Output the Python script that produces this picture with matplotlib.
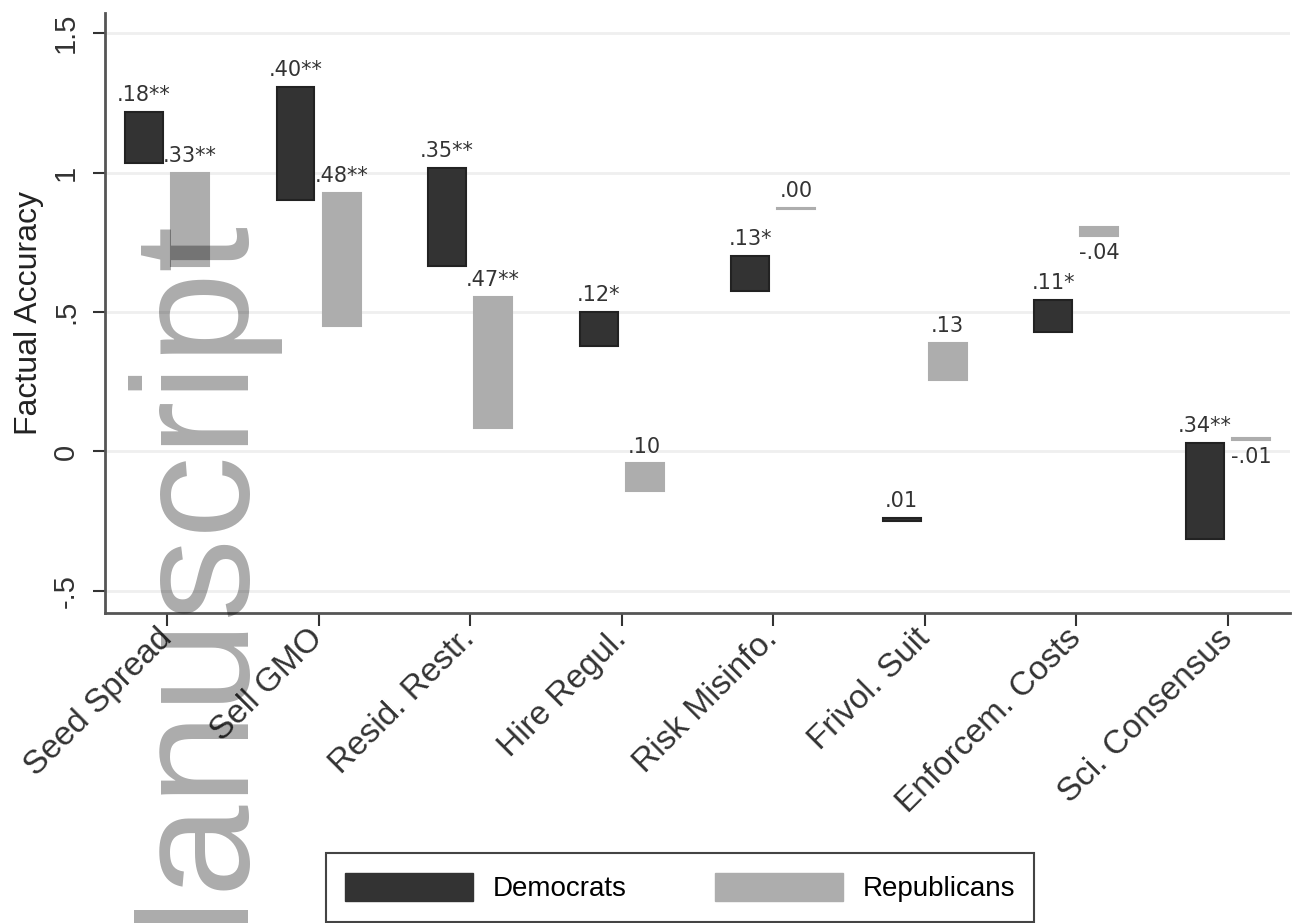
import matplotlib
matplotlib.use("Agg")
import matplotlib.pyplot as plt
from matplotlib.patches import Patch
import numpy as np

# question items on the x axis
categories = ["Seed Spread", "Sell GMO", "Resid. Restr.", "Hire Regul.",
              "Risk Misinfo.", "Frivol. Suit", "Enforcem. Costs", "Sci. Consensus"]

# factual accuracy: control level -> treated level, per party
dem_base = [1.036, 0.903, 0.666, 0.378, 0.576, -0.248, 0.428, -0.313]
dem_treat = [1.216, 1.306, 1.018, 0.500, 0.701, -0.240, 0.543, 0.029]
dem_labels = [".18**", ".40**", ".35**", ".12*", ".13*", ".01", ".11*", ".34**"]

rep_base = [0.666, 0.450, 0.086, -0.140, 0.870, 0.255, 0.806, 0.050]
rep_treat = [1.000, 0.928, 0.554, -0.043, 0.872, 0.388, 0.773, 0.040]
rep_labels = [".33**", ".48**", ".47**", ".10", ".00", ".13", "-.04", "-.01"]

DEM_C = "#333333"
REP_C = "#adadad"
TXT_C = "#333333"

plt.rcParams["font.family"] = ["Liberation Sans", "DejaVu Sans"]

W, H = 1294, 923
fig = plt.figure(figsize=(W / 100, H / 100), dpi=100, facecolor="white")
ax = fig.add_axes([105 / W, 1 - 613 / H, 1185 / W, 600 / H])

x = np.arange(len(categories))
off, bw = 0.152, 0.25


def draw(xs, base, treat, labels, color, edge):
    base, treat = np.asarray(base), np.asarray(treat)
    lo, hi = np.minimum(base, treat), np.maximum(base, treat)
    ax.bar(xs, hi - lo, bottom=lo, width=bw, color=color, edgecolor=edge,
           linewidth=1.5, zorder=3)
    for xi, b, t, lab in zip(xs, base, treat, labels):
        if t >= b:
            ax.annotate(lab, (xi, max(b, t)), xytext=(0, 5), textcoords="offset points",
                        ha="center", va="bottom", fontsize=15, color=TXT_C,
                        family="DejaVu Sans", zorder=4)
        else:
            ax.annotate(lab, (xi, min(b, t)), xytext=(0, -5), textcoords="offset points",
                        ha="center", va="top", fontsize=15, color=TXT_C,
                        family="DejaVu Sans", zorder=4)


draw(x - off, dem_base, dem_treat, dem_labels, DEM_C, "#222222")
draw(x + off, rep_base, rep_treat, rep_labels, REP_C, REP_C)

ax.set_xlim(-0.409, 7.41)
ax.set_ylim(-0.579, 1.572)

ax.set_yticks([-0.5, 0, 0.5, 1, 1.5])
ax.set_yticklabels(["-.5", "0", ".5", "1", "1.5"], rotation=90, va="center")
ax.set_ylabel("Factual Accuracy", fontsize=23, color="#222222", labelpad=6)
ax.set_xticks(x)
ax.set_xticklabels(categories, rotation=45, ha="right", va="center",
                   rotation_mode="anchor", fontsize=24, color="#222222")

ax.tick_params(axis="y", length=9, width=1.5, pad=9, labelsize=21,
               colors="#333333")
ax.tick_params(axis="x", length=9, width=1.5, pad=6, colors="#333333")

ax.grid(axis="y", color="#efefef", linewidth=2, zorder=0)
ax.set_axisbelow(True)
for s in ("top", "right"):
    ax.spines[s].set_visible(False)
for s in ("left", "bottom"):
    ax.spines[s].set_color("#555555")
    ax.spines[s].set_linewidth(2)

handles = [Patch(facecolor=DEM_C, edgecolor=DEM_C, label="Democrats"),
           Patch(facecolor=REP_C, edgecolor=REP_C, label="Republicans")]
leg = fig.legend(handles=handles, loc="center", ncol=2,
                 bbox_to_anchor=(680 / W, 1 - 887.5 / H), fontsize=20,
                 handlelength=4.6, handleheight=1.2, handletextpad=0.7,
                 columnspacing=3.2, borderpad=0.7, fancybox=False,
                 framealpha=1, edgecolor="#444444")
leg.get_frame().set_linewidth(1.5)

# repository watermark running up the left margin
fig.text(236 / W, 1 - 212 / H, "Manuscript", rotation=90, rotation_mode="anchor",
         ha="right", va="baseline", fontsize=119, color="black", alpha=0.33,
         zorder=10)

fig.savefig("out.png", dpi=100, facecolor="white")
